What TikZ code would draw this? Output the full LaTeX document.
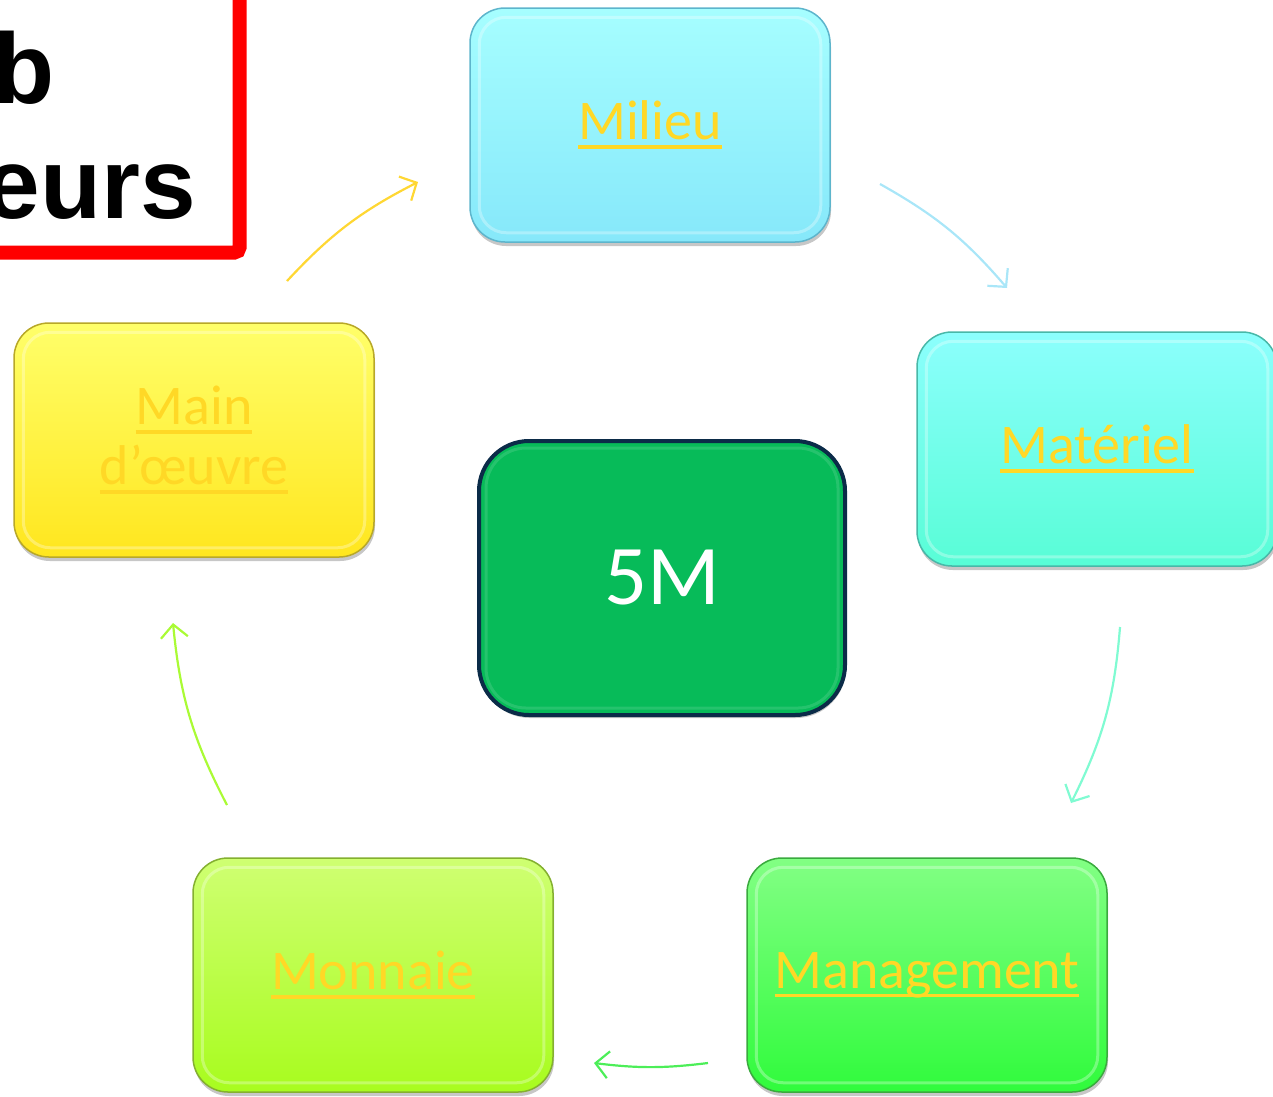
\documentclass[tikz,border=0pt]{standalone}
\usepackage{fontspec}
\setmainfont{Carlito}
\newfontfamily\titlefont{Liberation Sans}
\usetikzlibrary{arrows.meta,shadows,calc}
\definecolor{gold}{HTML}{FFD826}
\definecolor{milT}{HTML}{A6FEFF}
\definecolor{milB}{HTML}{86E8FA}
\definecolor{milD}{HTML}{5DB5CC}
\definecolor{matT}{HTML}{8CFFFD}
\definecolor{matB}{HTML}{58FDD6}
\definecolor{matD}{HTML}{48B8A8}
\definecolor{manT}{HTML}{82FF84}
\definecolor{manB}{HTML}{30FB3C}
\definecolor{manD}{HTML}{3AAA3E}
\definecolor{monT}{HTML}{CFFF72}
\definecolor{monB}{HTML}{A8FC1E}
\definecolor{monD}{HTML}{84B030}
\definecolor{maiT}{HTML}{FFFF6A}
\definecolor{maiB}{HTML}{FFE61E}
\definecolor{maiD}{HTML}{B8A828}
\definecolor{fivefill}{HTML}{07BB59}
\definecolor{fiveedge}{HTML}{0B2B48}
\definecolor{arA}{HTML}{FFD733}
\definecolor{arB}{HTML}{A9E6F8}
\definecolor{arC}{HTML}{80FBD2}
\definecolor{arD}{HTML}{4CEE58}
\definecolor{arE}{HTML}{AAFB35}
\newcommand\myul[1]{\setbox0\hbox{#1}\rlap{\rule[-9pt]{\wd0}{3.5pt}}\box0}
\tikzset{
  box/.style={rounded corners=35pt, minimum width=360pt, minimum height=234pt,
    line width=1.5pt, inner sep=0pt, text=gold, align=center,
    font=\fontsize{56}{60}\selectfont,
    drop shadow={shadow xshift=1pt, shadow yshift=-4pt, opacity=0.22, fill=black}},
  hilite/.style={white, opacity=0.3, line width=3pt, rounded corners=27pt},
  arr/.style={line width=2.2pt, -{Straight Barb[length=13pt,width=27pt,line width=2.2pt]}}
}
\begin{document}
\begin{tikzpicture}[x=1pt,y=-1pt]
\useasboundingbox (0,0) rectangle (1273,1096);
% red framed title (cut off at the page edge, as in the reference)
\draw[red, line width=14pt, rounded corners=5pt] (-100,-100) rectangle (239.5,252.5);
\node[anchor=base east, inner sep=0pt, font=\titlefont\bfseries\fontsize{100}{115}\selectfont] (tb) at (55,103) {b};
\node[anchor=base east, inner sep=0pt, font=\titlefont\bfseries\fontsize{100}{115}\selectfont] (te) at (196,218) {eurs};
% boxes
\node[box, top color=milT, bottom color=milB, draw=milD] (milieu) at (650,125) {\myul{Milieu}};
\node[box, top color=matT, bottom color=matB, draw=matD] (materiel) at (1097,449) {\myul{Matériel}};
\node[box, top color=manT, bottom color=manB, draw=manD] (management) at (927,975) {\myul{Management}};
\node[box, top color=monT, bottom color=monB, draw=monD] (monnaie) at (373,975) {\myul{Monnaie}};
\node[box, top color=maiT, bottom color=maiB, draw=maiD] (main) at (194,440) {\myul{Main}\\\myul{d’œuvre}};
\foreach \n in {milieu,materiel,management,monnaie,main}{
  \draw[hilite] ([shift={(10,10)}]\n.north west) rectangle ([shift={(-10,-10)}]\n.south east);
}
% centre
\node[rounded corners=50pt, minimum width=366pt, minimum height=274pt, fill=fivefill,
  draw=fiveedge, line width=4pt, text=white, font=\fontsize{85}{90}\selectfont,
  drop shadow={shadow xshift=1pt, shadow yshift=-3pt, opacity=0.22, fill=black}] (five) at (662,578) {5M};
\draw[white, opacity=0.12, line width=3pt, rounded corners=40pt] ([shift={(9,9)}]five.north west) rectangle ([shift={(-9,-9)}]five.south east);
% arrows
\coordinate (a1s) at (287,281); \coordinate (a1e) at (418,182);
\coordinate (a2s) at (880,184); \coordinate (a2e) at (1007,288);
\coordinate (a3s) at (1120,627); \coordinate (a3e) at (1071,803);
\coordinate (a4s) at (708,1063); \coordinate (a4e) at (594,1063);
\coordinate (a5s) at (227,805); \coordinate (a5e) at (173,623);
\draw[arr, arA] (a1s) to[bend left=10] (a1e);
\draw[arr, arB] (a2s) to[bend left=10] (a2e);
\draw[arr, arC] (a3s) to[bend left=11] (a3e);
\draw[arr, arD] (a4s) to[bend left=7] (a4e);
\draw[arr, arE] (a5s) to[bend left=11] (a5e);
\end{tikzpicture}
\end{document}
